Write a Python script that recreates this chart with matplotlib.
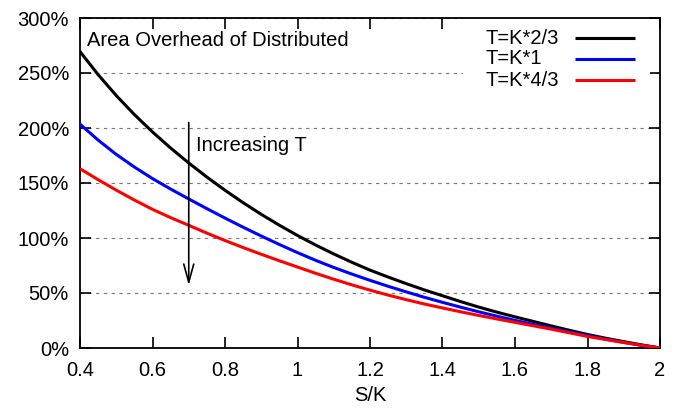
import matplotlib
matplotlib.use("Agg")
import matplotlib.pyplot as plt
from matplotlib.patches import Rectangle
from matplotlib.ticker import FuncFormatter

plt.rcParams['font.family'] = ['Liberation Sans', 'DejaVu Sans']

# Data
s_over_k = [0.40, 0.45, 0.50, 0.55, 0.60, 0.65, 0.70, 0.75, 0.80, 0.85,
            0.90, 0.95, 1.00, 1.05, 1.10, 1.15, 1.20, 1.25, 1.30, 1.35,
            1.40, 1.45, 1.50, 1.55, 1.60, 1.65, 1.70, 1.75, 1.80, 1.85,
            1.90, 1.95, 2.00]
t_2_3 = [269.5, 248.5, 229.5, 212.2, 196.4, 181.8, 168.2, 155.4, 143.4, 132.1,
         121.5, 111.6, 102.3, 93.6, 85.5, 77.9, 70.8, 64.5, 58.5, 52.8,
         47.5, 42.2, 37.2, 32.6, 28.3, 24.2, 20.1, 16.1, 12.3, 8.9,
         5.8, 2.8, 0]
t_1 = [203.5, 189, 176, 164.5, 154, 144.5, 135.5, 126.7, 118.1, 109.8,
       101.8, 94.1, 86.7, 79.7, 73.2, 67.2, 61.5, 56.1, 51, 46.1,
       41.5, 37.1, 32.9, 28.9, 25.1, 21.5, 18, 14.6, 11.3, 8.1,
       5.1, 2.4, 0]
t_4_3 = [163, 153, 143.5, 134.5, 126, 118.5, 111.5, 104.4, 97.7, 91.3,
         85.2, 79.3, 73.6, 67.9, 62.5, 57.4, 52.6, 48.1, 43.9, 40,
         36.4, 32.9, 29.6, 26.4, 23.3, 20.2, 17.1, 13.8, 10.5, 7.7,
         5, 2.4, 0]

labels = ["T=K*2/3", "T=K*1", "T=K*4/3"]
colors = ["#000000", "#0000ff", "#ff0000"]
series = [t_2_3, t_1, t_4_3]

x_ticks = [0.4, 0.6, 0.8, 1.0, 1.2, 1.4, 1.6, 1.8, 2.0]
x_tick_labels = ["0.4", "0.6", "0.8", "1", "1.2", "1.4", "1.6", "1.8", "2"]
y_ticks = [0, 50, 100, 150, 200, 250, 300]

arrow_x = 0.7
arrow_top = 205
arrow_tip = 57

FS = 14.5

fig = plt.figure(figsize=(6.79, 4.09), dpi=100)
ax = fig.add_axes([80/679, 1-348/409, 580/679, 330/409])
ax.set_axisbelow(True)

for ys, c in zip(series, colors):
    ax.plot(s_over_k, ys, color=c, lw=2.2, zorder=3, solid_capstyle='butt',
            solid_joinstyle='round')

ax.set_xlim(0.4, 2.0)
ax.set_ylim(0, 300)
ax.set_xticks(x_ticks)
ax.set_xticklabels(x_tick_labels)
ax.set_yticks(y_ticks)
ax.yaxis.set_major_formatter(FuncFormatter(lambda v, p: f"{int(v)}%"))

ax.tick_params(direction='in', length=8, width=1.2, top=True, right=True,
               labelsize=FS, colors='black')
ax.tick_params(axis='x', pad=9)
ax.tick_params(axis='y', pad=8)
for sp in ax.spines.values():
    sp.set_linewidth(1.3)

ax.yaxis.grid(True, color='#777777', lw=0.8, ls=(0, (3, 4)))
ax.set_xlabel("S/K", fontsize=FS, labelpad=5)

# white key background that hides the grid behind the legend
ax.add_patch(Rectangle((0.66, 0.78), 0.322, 0.22, transform=ax.transAxes,
                       facecolor='white', edgecolor='none', zorder=1))

# legend (text left-aligned, sample line to the right)
for i, (lab, c) in enumerate(zip(labels, colors)):
    yy = 1 - (38 - 18 + i * 21) / 330
    ax.text((486 - 80) / 580, yy, lab, transform=ax.transAxes, fontsize=FS,
            ha='left', va='center', zorder=4)
    ax.plot([(575 - 80) / 580, (635 - 80) / 580], [yy, yy], transform=ax.transAxes,
            color=c, lw=2.2, zorder=4, solid_capstyle='butt')

ax.text((87 - 80) / 580, 1 - (40 - 18) / 330, "Area Overhead of Distributed",
        transform=ax.transAxes, fontsize=FS, ha='left', va='center', zorder=4)

ax.annotate("", xy=(arrow_x, arrow_tip), xytext=(arrow_x, arrow_top),
            arrowprops=dict(arrowstyle='->,head_length=1.3,head_width=0.36',
                            color='black', lw=1.2, shrinkA=0, shrinkB=0), zorder=4)
ax.text(0.72, 184.5, "Increasing T", fontsize=FS, ha='left', va='center', zorder=4)

fig.savefig("out.png", dpi=100)
